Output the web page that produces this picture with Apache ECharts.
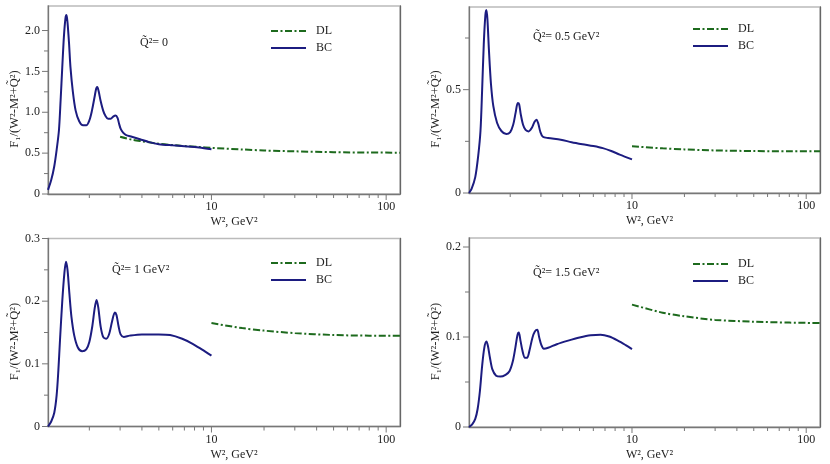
<!DOCTYPE html>
<html>
<head>
<meta charset="utf-8">
<script src="https://cdn.jsdelivr.net/npm/echarts@6/dist/echarts.min.js"></script>
<style>
  html, body { margin: 0; padding: 0; background: #fff; }
  #chart { width: 830px; height: 464px; }
</style>
</head>
<body>
<div id="chart"></div>
<script>
// BC curves, W^2 in GeV^2 and F1/(W^2-M^2+Q~^2)
const bcW2_q0 = [1.16, 1.21, 1.26, 1.30, 1.34, 1.37, 1.40, 1.43, 1.46, 1.48, 1.50, 1.53, 1.56, 1.61, 1.67, 1.75, 1.84, 1.92, 2.0, 2.07, 2.14, 2.19, 2.22, 2.26, 2.32, 2.40, 2.48, 2.56, 2.65, 2.75, 2.83, 2.90, 2.96, 3.02, 3.12, 3.25, 3.5, 3.9, 4.4, 5.0, 6.0, 7.0, 8.5, 10];
const bcF_q0 = [0.05, 0.17, 0.34, 0.54, 0.78, 1.15, 1.55, 1.92, 2.15, 2.19, 2.10, 1.85, 1.55, 1.25, 1.02, 0.89, 0.84, 0.84, 0.90, 1.02, 1.18, 1.29, 1.31, 1.26, 1.14, 1.02, 0.95, 0.92, 0.92, 0.95, 0.96, 0.93, 0.86, 0.80, 0.75, 0.72, 0.70, 0.67, 0.635, 0.61, 0.595, 0.585, 0.57, 0.548];

const bcW2_q05 = [1.16, 1.20, 1.26, 1.31, 1.35, 1.38, 1.41, 1.44, 1.46, 1.48, 1.51, 1.55, 1.60, 1.68, 1.78, 1.90, 2.0, 2.08, 2.15, 2.21, 2.25, 2.30, 2.37, 2.45, 2.55, 2.66, 2.76, 2.83, 2.90, 2.98, 3.08, 3.3, 3.9, 4.5, 5.2, 6.0, 6.8, 7.6, 8.5, 10];
const bcF_q05 = [0.0, 0.02, 0.077, 0.18, 0.30, 0.50, 0.72, 0.86, 0.885, 0.84, 0.69, 0.53, 0.42, 0.34, 0.30, 0.285, 0.295, 0.33, 0.39, 0.435, 0.43, 0.38, 0.33, 0.305, 0.298, 0.315, 0.345, 0.355, 0.335, 0.295, 0.272, 0.266, 0.258, 0.246, 0.236, 0.227, 0.217, 0.203, 0.186, 0.163];

const bcW2_q1 = [1.16, 1.21, 1.26, 1.30, 1.33, 1.36, 1.40, 1.44, 1.47, 1.50, 1.54, 1.58, 1.64, 1.72, 1.82, 1.92, 2.0, 2.08, 2.15, 2.20, 2.25, 2.32, 2.40, 2.50, 2.60, 2.70, 2.80, 2.86, 2.94, 3.02, 3.15, 3.4, 4.0, 5.0, 5.8, 6.8, 7.8, 8.8, 10];
const bcF_q1 = [0.0, 0.008, 0.022, 0.05, 0.09, 0.14, 0.20, 0.245, 0.263, 0.25, 0.21, 0.175, 0.145, 0.126, 0.12, 0.123, 0.135, 0.16, 0.19, 0.202, 0.19, 0.16, 0.143, 0.14, 0.148, 0.168, 0.182, 0.178, 0.16, 0.147, 0.143, 0.145, 0.147, 0.147, 0.146, 0.140, 0.132, 0.123, 0.113];

const bcW2_q15 = [1.16, 1.21, 1.26, 1.30, 1.34, 1.38, 1.42, 1.46, 1.49, 1.53, 1.58, 1.66, 1.76, 1.88, 1.98, 2.07, 2.14, 2.20, 2.24, 2.29, 2.35, 2.43, 2.50, 2.58, 2.68, 2.77, 2.86, 2.93, 3.02, 3.12, 3.3, 3.7, 4.3, 5.0, 5.8, 6.6, 7.4, 8.3, 9.2, 10];
const bcF_q15 = [0.0, 0.003, 0.009, 0.02, 0.04, 0.068, 0.088, 0.095, 0.09, 0.077, 0.064, 0.057, 0.056, 0.058, 0.062, 0.073, 0.088, 0.102, 0.105, 0.096, 0.085, 0.077, 0.077, 0.085, 0.099, 0.106, 0.108, 0.10, 0.091, 0.087, 0.088, 0.092, 0.096, 0.0995, 0.102, 0.1025, 0.1005, 0.096, 0.091, 0.0866];

// DL curves
const dlW2_q0 = [3, 3.5, 4, 5, 6, 7, 8.5, 10, 15, 20, 30, 50, 80, 120];
const dlF_q0 = [0.70, 0.665, 0.645, 0.615, 0.598, 0.587, 0.575, 0.565, 0.545, 0.532, 0.522, 0.512, 0.507, 0.506];
const dlW2 = [10, 15, 20, 30, 50, 80, 120];
const dlF_q05 = [0.226, 0.216, 0.211, 0.206, 0.203, 0.202, 0.202];
const dlF_q1 = [0.165, 0.157, 0.153, 0.149, 0.146, 0.145, 0.145];
const dlF_q15 = [0.136, 0.127, 0.123, 0.119, 0.117, 0.116, 0.1155];

const panelLabels = ['Q\u0303\u00b2= 0', 'Q\u0303\u00b2= 0.5 GeV\u00b2', 'Q\u0303\u00b2= 1 GeV\u00b2', 'Q\u0303\u00b2= 1.5 GeV\u00b2'];
const xName = 'W\u00b2, GeV\u00b2';
const yName = 'F\u2081/(W\u00b2-M\u00b2+Q\u0303\u00b2)';

// axis ticks
const xMin = 1.16, xMax = 120;
const xMajorTicks = [10, 100];
const xMinorTicks = [2, 3, 4, 5, 6, 7, 8, 9, 20, 30, 40, 50, 60, 70, 80, 90];
const yMax = [2.3, 0.9, 0.3, 0.21];
const yStep = [0.5, 0.5, 0.1, 0.1];
const yMajorTicks = [[0, 0.5, 1, 1.5, 2], [0, 0.5], [0, 0.1, 0.2, 0.3], [0, 0.1, 0.2]];
const yMinorTicks = [[0.25, 0.75, 1.25, 1.75], [0.25, 0.75], [0.05, 0.15, 0.25], [0.05, 0.15]];

const panels = [
  { bcW2: bcW2_q0, bcF: bcF_q0, dlW2: dlW2_q0, dlF: dlF_q0 },
  { bcW2: bcW2_q05, bcF: bcF_q05, dlW2: dlW2, dlF: dlF_q05 },
  { bcW2: bcW2_q1, bcF: bcF_q1, dlW2: dlW2, dlF: dlF_q1 },
  { bcW2: bcW2_q15, bcF: bcF_q15, dlW2: dlW2, dlF: dlF_q15 },
];

// layout
const gridBox = [
  { left: 48, top: 6, width: 352, height: 188 },
  { left: 469, top: 7, width: 351, height: 186 },
  { left: 48, top: 238.5, width: 352, height: 188 },
  { left: 469, top: 238, width: 351, height: 189 },
];
const labelPos = [[140, 37], [533, 31], [112, 264], [533, 267]];
const legendPos = [[270, 25], [692, 23], [270, 257], [692, 258]];

const FONT = 'Liberation Serif, DejaVu Serif, serif';
const TEXT = '#222';
const BC_COLOR = '#1c1c80';
const DL_COLOR = '#1d6a1d';
const AXIS_COLOR = '#777';

const pairs = (xs, ys) => xs.map((x, i) => [x, ys[i]]);

// tick marks: kind 0 x major, 1 x minor, 2 y major, 3 y minor
function tickData(i) {
  const d = [];
  xMajorTicks.forEach((v) => d.push([v, 0, 0]));
  xMinorTicks.forEach((v) => d.push([v, 0, 1]));
  yMajorTicks[i].forEach((v) => d.push([xMin, v, 2]));
  yMinorTicks[i].forEach((v) => d.push([xMin, v, 3]));
  return d;
}
function renderTick(params, api) {
  const kind = api.value(2);
  const p = api.coord([api.value(0), api.value(1)]);
  const len = kind === 0 || kind === 2 ? 6 : 4;
  const shape = kind >= 2
    ? { x1: p[0] - len, y1: p[1], x2: p[0], y2: p[1] }
    : { x1: p[0], y1: p[1], x2: p[0], y2: p[1] + len };
  return { type: 'line', shape: shape, style: { stroke: AXIS_COLOR, lineWidth: 1 } };
}

const grid = [], xAxis = [], yAxis = [], series = [], legend = [], title = [];

panels.forEach((p, i) => {
  grid.push(Object.assign({ show: true, borderColor: '#bbb', borderWidth: 1.5, backgroundColor: 'transparent' }, gridBox[i]));

  xAxis.push({
    gridIndex: i, type: 'log', logBase: 10, min: xMin, max: xMax,
    axisLine: { show: true, onZero: false, lineStyle: { color: AXIS_COLOR, width: 1.3 } },
    axisTick: { show: false }, splitLine: { show: false },
    axisLabel: {
      margin: 7, fontFamily: FONT, fontSize: 12, color: TEXT,
      formatter: (v) => {
        const r = Math.round(v);
        return xMajorTicks.includes(r) && Math.abs(v - r) < 1e-6 ? String(r) : '';
      },
    },
    name: xName, nameLocation: 'middle', nameGap: 22,
    nameTextStyle: { fontFamily: FONT, fontSize: 12, color: TEXT, padding: [0, 0, 0, i % 2 ? 10 : 20] },
  });

  yAxis.push({
    gridIndex: i, type: 'value', min: 0, max: yMax[i], interval: yStep[i],
    axisLine: { show: true, onZero: false, lineStyle: { color: AXIS_COLOR, width: 1.3 } },
    axisTick: { show: false }, splitLine: { show: false },
    axisLabel: {
      margin: 8, fontFamily: FONT, fontSize: 12, color: TEXT,
      formatter: (v) => {
        const hit = yMajorTicks[i].some((t) => Math.abs(t - v) < 1e-9);
        if (!hit) return '';
        return v === 0 ? '0' : v.toFixed(1);
      },
    },
    name: yName, nameLocation: 'middle', nameGap: 27,
    nameTextStyle: { fontFamily: FONT, fontSize: 12.5, color: TEXT, padding: [0, 18, 0, 0] },
  });
  // right frame edge is darker than the top one
  yAxis.push({
    gridIndex: i, type: 'value', position: 'right', min: 0, max: yMax[i],
    axisLine: { show: true, onZero: false, lineStyle: { color: '#666', width: 1.3 } },
    axisTick: { show: false }, axisLabel: { show: false }, splitLine: { show: false },
  });

  series.push({
    type: 'line', name: 'DL', xAxisIndex: i, yAxisIndex: 2 * i,
    data: pairs(p.dlW2, p.dlF), symbol: 'none', smooth: 0.3, silent: true,
    lineStyle: { color: DL_COLOR, width: 2, type: [7, 2.5, 2, 2.5] },
    itemStyle: { color: DL_COLOR },
  });
  series.push({
    type: 'line', name: 'BC', xAxisIndex: i, yAxisIndex: 2 * i,
    data: pairs(p.bcW2, p.bcF), symbol: 'none', smooth: 0.3, silent: true,
    lineStyle: { color: BC_COLOR, width: 2 },
    itemStyle: { color: BC_COLOR },
  });
  series.push({
    type: 'custom', xAxisIndex: i, yAxisIndex: 2 * i, silent: true, clip: false,
    data: tickData(i), renderItem: renderTick,
  });

  legend.push({
    data: ['DL', 'BC'], orient: 'vertical', left: legendPos[i][0], top: legendPos[i][1],
    itemWidth: 35, itemHeight: 14, itemGap: 5, selectedMode: false, padding: 0,
    itemStyle: { opacity: 0 },
    textStyle: { fontFamily: FONT, fontSize: 12, color: TEXT, padding: [0, 0, 0, 5] },
  });

  title.push({
    text: panelLabels[i], left: labelPos[i][0], top: labelPos[i][1], padding: 0,
    textStyle: { fontFamily: FONT, fontSize: 12, fontWeight: 'normal', color: TEXT },
  });
});

const chart = echarts.init(document.getElementById('chart'), null, { renderer: 'canvas' });
chart.setOption({
  animation: false,
  backgroundColor: '#fff',
  title: title,
  legend: legend,
  grid: grid,
  xAxis: xAxis,
  yAxis: yAxis,
  series: series,
});
</script>
</body>
</html>
